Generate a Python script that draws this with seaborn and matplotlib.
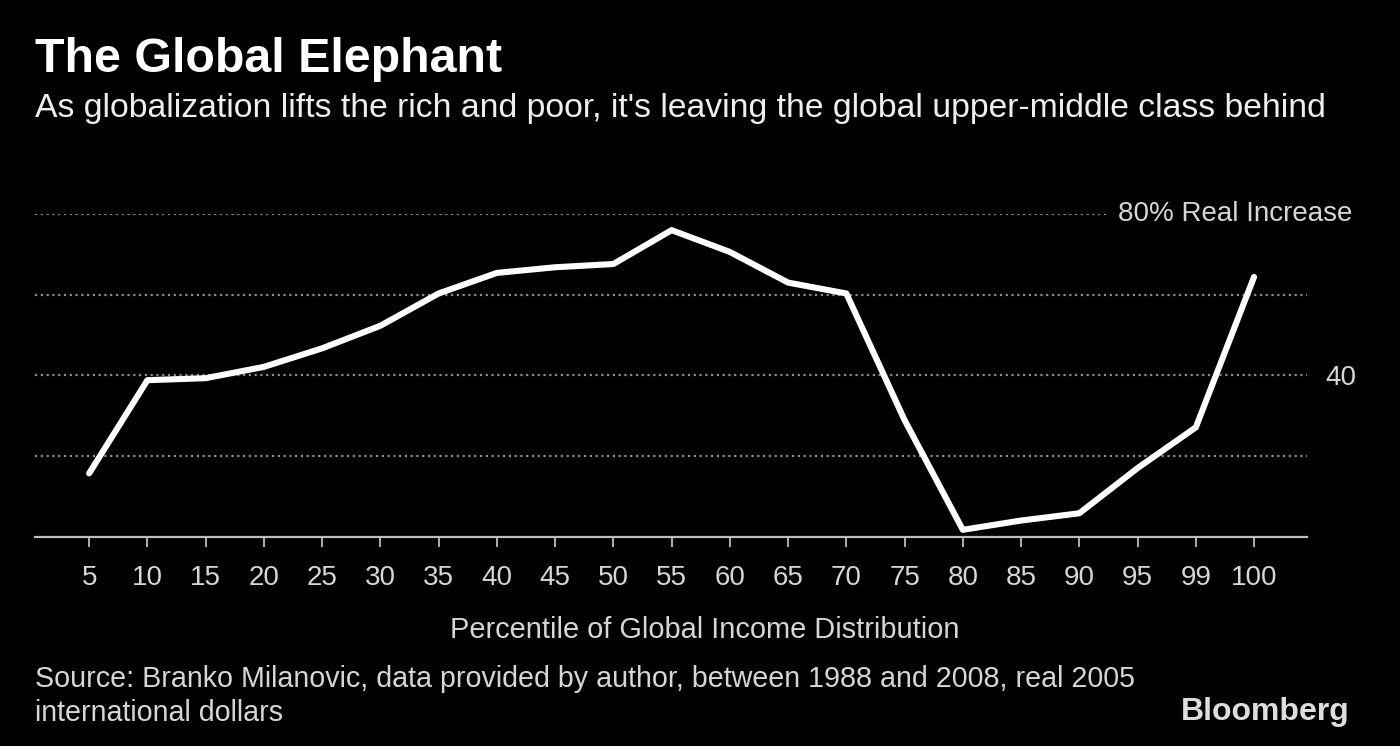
import pandas as pd
import matplotlib.pyplot as plt
import seaborn as sns

percentiles = ["5", "10", "15", "20", "25", "30", "35", "40", "45", "50",
               "55", "60", "65", "70", "75", "80", "85", "90", "95", "99", "100"]
real_increase = [15.7, 38.8, 39.3, 42.1, 46.7, 52.3, 60.3, 65.4, 66.8, 67.6,
                 76.0, 70.6, 63.0, 60.3, 28.9, 1.7, 4.0, 5.8, 17.0, 27.1, 64.4]
grid_values = [20, 40, 60, 80]

sns.set_theme(style="dark")
plt.rcParams['font.family'] = ['Liberation Sans', 'DejaVu Sans']

df = pd.DataFrame({"pos": range(len(percentiles)), "increase": real_increase})

fig = plt.figure(figsize=(14, 7.46), dpi=100, facecolor="black")
ax = fig.add_axes([0.025, 0.2806, 0.9086, 0.4325])
ax.set_facecolor("black")

for g in grid_values:
    ax.axhline(g, color="#8c8c8c", lw=1.6, ls=(0, (1, 1.6)), zorder=1)

sns.lineplot(data=df, x="pos", y="increase", color="white", lw=4.4, ax=ax,
             zorder=3)

ax.set_xlim(-0.93, len(percentiles) - 1 + 0.91)
ax.set_ylim(0, 80)
ax.set_xticks(range(len(percentiles)))
ax.set_xticklabels(percentiles)
ax.tick_params(axis="x", bottom=True, colors="#bdbdbd", length=7.5, width=1.3,
               direction="out", labelsize=20, labelcolor="#d6d6d6", pad=13)
ax.yaxis.tick_right()
ax.set_yticks([40])
ax.set_yticklabels(["40"])
ax.tick_params(axis="y", length=0, labelsize=20, labelcolor="#d6d6d6", pad=13)
ax.set_xlabel("")
ax.set_ylabel("")
ax.grid(False)
for s in ["top", "left", "right"]:
    ax.spines[s].set_visible(False)
ax.spines["bottom"].set_color("#bdbdbd")
ax.spines["bottom"].set_linewidth(1.6)

ax.text(1.036, 80, "80% Real Increase", transform=ax.get_yaxis_transform(),
        ha="right", va="center", fontsize=20, color="#d6d6d6", zorder=4,
        bbox=dict(facecolor="black", edgecolor="none", pad=8))

fig.text(0.025, 1 - 60 / 746, "The Global Elephant", fontsize=34.8, fontweight="bold",
         color="white", va="center")
fig.text(0.025, 1 - 108 / 746, "As globalization lifts the rich and poor, it's leaving the global upper-middle class behind",
         fontsize=24.3, color="#eeeeee", va="center")
fig.text(705 / 1400, 1 - 630 / 746, "Percentile of Global Income Distribution",
         fontsize=20.9, color="#d6d6d6", ha="center", va="center")
fig.text(0.025, 1 - 696 / 746,
         "Source: Branko Milanovic, data provided by author, between 1988 and 2008, real 2005\ninternational dollars",
         fontsize=20.6, color="#d6d6d6", va="center", linespacing=1.25)
fig.text(1350 / 1400, 1 - 712 / 746, "Bloomberg", fontsize=23, fontweight="bold",
         color="#dddddd", ha="right", va="center")

fig.savefig("out.png", dpi=100, facecolor="black")
